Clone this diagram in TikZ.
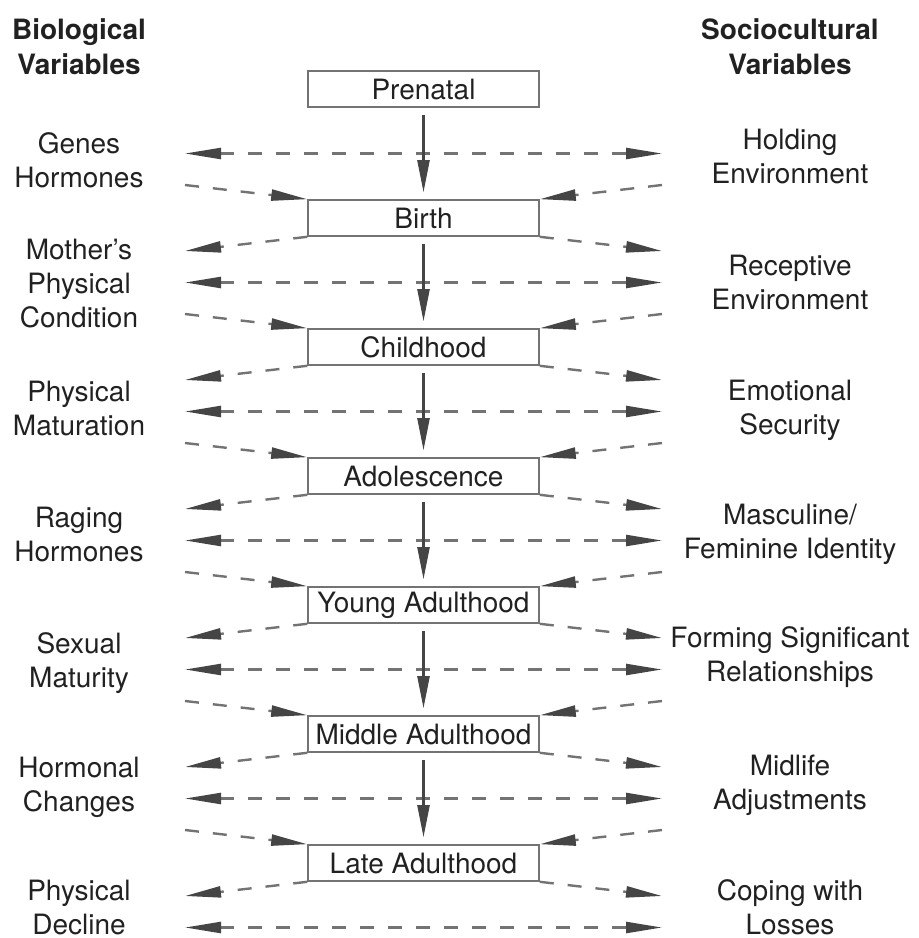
\documentclass[tikz,border=0pt]{standalone}
\usepackage{fontspec}
\setmainfont{TeX Gyre Heros}
\usetikzlibrary{arrows.meta}
\definecolor{linegray}{gray}{0.45}
\definecolor{tipgray}{gray}{0.27}
\definecolor{inkgray}{gray}{0.13}
\begin{document}
\begin{tikzpicture}[x=0.5pt,y=-0.5pt,
		stage/.style={draw=linegray,line width=0.8pt,minimum width=115.5pt,minimum height=18pt,inner sep=0pt,text=inkgray,font=\fontsize{14}{17}\selectfont},
		sidetext/.style={align=center,inner sep=0pt,text=inkgray,font=\fontsize{14}{17}\selectfont},
		colhead/.style={sidetext,font=\fontsize{14}{17.5}\selectfont\bfseries},
		dasharr/.style={linegray,line width=1.2pt,dash pattern=on 7pt off 7pt,-{Triangle[length=18pt,width=5.5pt,color=tipgray,fill=tipgray]}},
		dblarr/.style={dasharr,{Triangle[length=18pt,width=5.5pt,color=tipgray,fill=tipgray]}-{Triangle[length=18pt,width=5.5pt,color=tipgray,fill=tipgray]}},
		flowarr/.style={tipgray,line width=1.2pt,shorten <=3.5pt,shorten >=3.5pt,-{Triangle[length=16pt,width=6pt]}}]
	\useasboundingbox (0,0) rectangle (918,938);
	% life stages
	\node[stage] (prenatal) at (423.5,89) {Prenatal};
	\node[stage] (birth) at (423.5,218) {Birth};
	\node[stage] (childhood) at (423.5,347) {Childhood};
	\node[stage] (adolescence) at (423.5,476) {Adolescence};
	\node[stage] (young) at (423.5,605) {Young Adulthood};
	\node[stage] (middle) at (423.5,734) {Middle Adulthood};
	\node[stage] (late) at (423.5,863) {Late Adulthood};
	% column heads
	\node[colhead] (bio) at (79,47) {Biological\\Variables};
	\node[colhead] (socio) at (790,47) {Sociocultural\\Variables};
	% biological variables
	\node[sidetext] (genes) at (79,160) {Genes\\Hormones};
	\node[sidetext] (mother) at (79,283.5) {Mother's\\Physical\\Condition};
	\node[sidetext] (maturation) at (79,408.5) {Physical\\Maturation};
	\node[sidetext] (raging) at (79,534) {Raging\\Hormones};
	\node[sidetext] (sexual) at (79,663) {Sexual\\Maturity};
	\node[sidetext] (hormonal) at (79,787) {Hormonal\\Changes};
	\node[sidetext] (decline) at (79,907) {Physical\\Decline};
	% sociocultural variables
	\node[sidetext] (holding) at (790,156.5) {Holding\\Environment};
	\node[sidetext] (receptive) at (790,282.5) {Receptive\\Environment};
	\node[sidetext] (security) at (790,410) {Emotional\\Security};
	\node[sidetext] (identity) at (790,534.5) {Masculine/\\Feminine Identity};
	\node[sidetext] (forming) at (790,657.5) {Forming Significant\\Relationships};
	\node[sidetext] (midlife) at (790,785.5) {Midlife\\Adjustments};
	\node[sidetext] (coping) at (790,907) {Coping with\\Losses};
	% two-way influences below each stage
	\foreach \s/\y in {prenatal/153.5,birth/282.5,childhood/411.5,adolescence/540.5,young/669.5,middle/798.5,late/927.5}{
		\coordinate (hl\s) at (185,\y);
		\coordinate (hr\s) at (662,\y);
		\draw[dblarr] (hl\s) -- (hr\s);
	}
	% stage to stage, with influences in and out
	\foreach \p/\s/\y in {prenatal/birth/153.5,birth/childhood/282.5,childhood/adolescence/411.5,adolescence/young/540.5,young/middle/669.5,middle/late/798.5}{
		\draw[flowarr] (\p) -- (\s);
		\coordinate (il\s) at (185,\y+31.5);
		\coordinate (ir\s) at (662,\y+31.5);
		\coordinate (ol\s) at (185,\y+97.5);
		\coordinate (or\s) at (662,\y+97.5);
		\draw[dasharr] (il\s) -- (\s.north west);
		\draw[dasharr] (ir\s) -- (\s.north east);
		\draw[dasharr] (\s.south west) -- (ol\s);
		\draw[dasharr] (\s.south east) -- (or\s);
	}
\end{tikzpicture}
\end{document}
